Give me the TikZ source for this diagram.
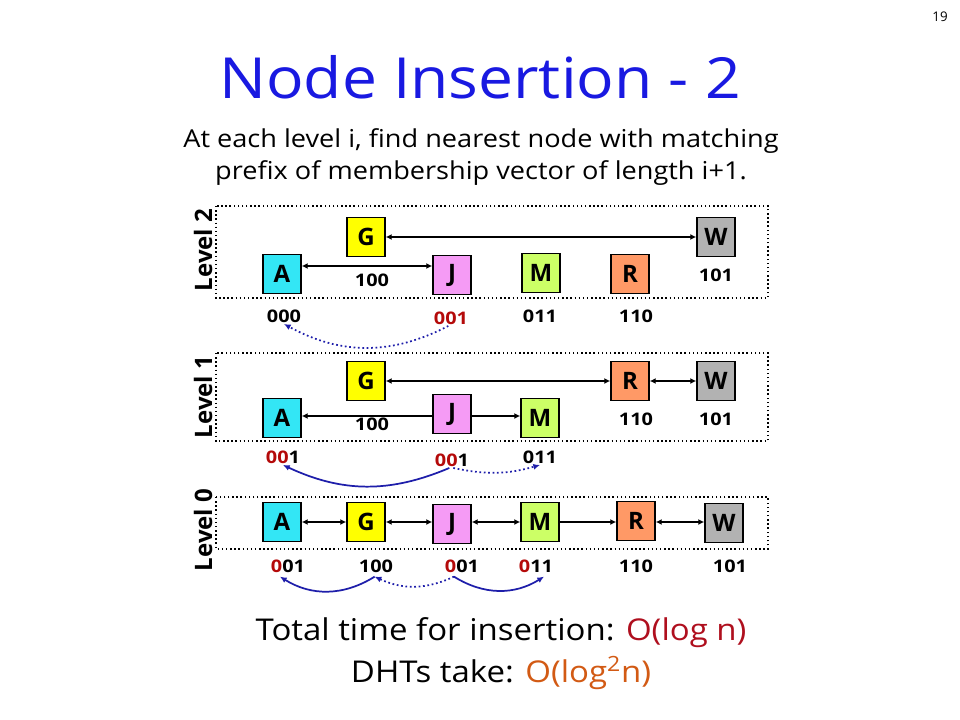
\documentclass[tikz,border=0pt]{standalone}
\usepackage{fontspec}
\setmainfont{Open Sans}
\usetikzlibrary{arrows.meta}
\definecolor{titleblue}{RGB}{25,25,225}
\definecolor{cA}{RGB}{51,230,245}
\definecolor{cG}{RGB}{255,255,0}
\definecolor{cJ}{RGB}{245,155,245}
\definecolor{cM}{RGB}{204,255,102}
\definecolor{cR}{RGB}{255,153,102}
\definecolor{cW}{RGB}{178,178,178}
\definecolor{pre}{RGB}{180,10,10}
\definecolor{curveblue}{RGB}{30,30,170}
\definecolor{darkred}{RGB}{175,15,30}
\definecolor{brownorange}{RGB}{210,90,20}
\newcommand{\rd}[1]{\textcolor{pre}{#1}}
\newfontfamily\widefont[FakeStretch=1.1]{Open Sans}
\newfontfamily\numfont[FakeStretch=1.15]{Open Sans}
\begin{document}
\begin{tikzpicture}[x=0.75pt,y=-0.75pt,
  box/.style={draw,line width=1.1pt,minimum width=28.5pt,minimum height=29pt,inner sep=0pt,font=\fontsize{18}{18}\selectfont\bfseries},
  num/.style={font=\numfont\fontsize{13}{13}\selectfont\bfseries,inner sep=1pt},
  lvl/.style={rotate=90,font=\fontsize{18}{18}\selectfont\bfseries},
  frame/.style={dotted,line width=1.1pt},
  dbl/.style={line width=1.3pt,{Latex[length=4.5pt,width=4.5pt]}-{Latex[length=4.5pt,width=4.5pt]}},
  one/.style={line width=1.3pt,-{Latex[length=4.5pt,width=4.5pt]}},
  bc/.style={curveblue,line width=1.3pt,-{Latex[length=5pt,width=4.5pt]}},
  bd/.style={curveblue,line width=1.3pt,dotted,-{Latex[length=5pt,width=4.5pt]}}]
\useasboundingbox (0,0) rectangle (960,720);

\node[font=\fontsize{10}{12}\selectfont] (pg) at (940,17) {19};
\node[titleblue,font=\widefont\fontsize{42.5}{48}\selectfont] (title) at (480,77) {Node Insertion - 2};
\node[align=center,font=\widefont\fontsize{18.5}{24.5}\selectfont] (sub) at (481,157)
  {At each level i, find nearest node with matching\\prefix of membership vector of length i+1.};

% ---------- Level 2 ----------
\draw[frame] (216,206) rectangle (768,298);
\node[lvl] (L2) at (203,250) {Level 2};
\node[box,fill=cA] (A2) at (282,274) {A};
\node[box,fill=cG] (G2) at (366,237) {G};
\node[box,fill=cJ] (J2) at (452,275) {J};
\node[box,fill=cM] (M2) at (541,273) {M};
\node[box,fill=cR] (R2) at (630,274) {R};
\node[box,fill=cW] (W2) at (716,237) {W};
\node[num] (lG2) at (372,280) {100};
\node[num] (lW2) at (716,275) {101};
\node[num] (lA2) at (284,316) {000};
\node[num] (lJ2) at (451,318) {\rd{001}};
\node[num] (lM2) at (540,316) {011};
\node[num] (lR2) at (636,316) {110};
\draw[dbl] (A2.east |- {(0,266)}) -- (J2.west |- {(0,266)});
\draw[dbl] (G2) -- (W2);
\draw[bd] ([xshift=-2pt]lJ2.south) to[bend left=28] (lA2.south);

% ---------- Level 1 ----------
\draw[frame] (216,353) rectangle (768,441);
\node[lvl] (L1) at (203,397) {Level 1};
\node[box,fill=cA] (A1) at (282,418) {A};
\node[box,fill=cG] (G1) at (366,381) {G};
\node[box,fill=cJ] (J1) at (452,414) {J};
\node[box,fill=cM] (M1) at (540,418) {M};
\node[box,fill=cR] (R1) at (630,381) {R};
\node[box,fill=cW] (W1) at (716,381) {W};
\node[num] (lG1) at (372,424) {100};
\node[num] (lR1) at (636,419) {110};
\node[num] (lW1) at (716,419) {101};
\node[num] (lA1) at (283,457) {\rd{00}1};
\node[num] (lJ1) at (452,460) {\rd{00}1};
\node[num] (lM1) at (540,457) {011};
\draw[dbl] (G1) -- (R1);
\draw[dbl] (R1) -- (W1);
\draw[one] (J1.west |- {(0,416)}) -- (A1.east |- {(0,416)});
\draw[one] (J1.east |- {(0,416)}) -- (M1.west |- {(0,416)});
\draw[bc] ([xshift=-2pt]lJ1.south) to[bend left=24] (lA1.south);
\draw[bd] ([xshift=1pt]lJ1.south) to[bend right=14] (lM1.south);

% ---------- Level 0 ----------
\draw[frame] (216,497) rectangle (768,549);
\node[lvl] (L0) at (203,530) {Level 0};
\node[box,fill=cA] (A0) at (282,522) {A};
\node[box,fill=cG] (G0) at (366,522) {G};
\node[box,fill=cJ] (J0) at (452,524) {J};
\node[box,fill=cM] (M0) at (540,522) {M};
\node[box,fill=cR] (R0) at (636,521) {R};
\node[box,fill=cW] (W0) at (724,523) {W};
\node[num] (lA0) at (288,566) {\rd{0}01};
\node[num] (lG0) at (376,566) {100};
\node[num] (lJ0) at (462,566) {\rd{0}01};
\node[num] (lM0) at (536,566) {\rd{0}11};
\node[num] (lR0) at (636,566) {110};
\node[num] (lW0) at (730,566) {101};
\draw[dbl] (A0.east |- {(0,522)}) -- (G0.west |- {(0,522)});
\draw[dbl] (G0.east |- {(0,522)}) -- (J0.west |- {(0,522)});
\draw[dbl] (J0.east |- {(0,522)}) -- (M0.west |- {(0,522)});
\draw[one] (M0.east |- {(0,522)}) -- (R0.west |- {(0,522)});
\draw[dbl] (R0.east |- {(0,522)}) -- (W0.west |- {(0,522)});
\draw[bc] ([xshift=-1pt,yshift=-2pt]lG0.south) to[bend left=32] ([xshift=-6pt,yshift=-2pt]lA0.south);
\draw[bd] ([xshift=-6pt,yshift=-2pt]lJ0.south) to[bend left=25] ([xshift=-1pt,yshift=-2pt]lG0.south);
\draw[bc] ([xshift=-6pt,yshift=-2pt]lJ0.south) to[bend right=32] ([xshift=6pt,yshift=-2pt]lM0.south);

% ---------- Bottom text ----------
\node[font=\widefont\fontsize{22.5}{30}\selectfont] (t1) at (501,633) {Total time for insertion: \textcolor{darkred}{O(log n)}};
\node[font=\widefont\fontsize{22.5}{30}\selectfont] (t2) at (501,673) {DHTs take: \textcolor{brownorange}{O(log\textsuperscript{2}n)}};
\end{tikzpicture}
\end{document}
